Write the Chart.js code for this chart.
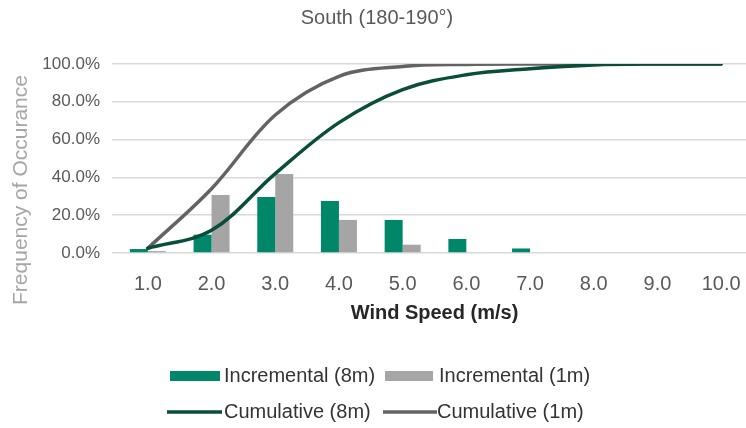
<!DOCTYPE html>
<html>
<head>
<meta charset="utf-8">
<script src="https://cdn.jsdelivr.net/npm/chart.js@4/dist/chart.umd.min.js"></script>
<style>
  html, body { margin: 0; padding: 0; background: #ffffff; overflow: hidden; width: 746px; height: 428px; }
  #wrap { position: relative; width: 760px; height: 428px; }
</style>
</head>
<body>
<div id="wrap"><canvas id="c" width="760" height="428"></canvas></div>
<script>
// ---- data ----
const chartTitle = 'South (180-190°)';
const yAxisTitle = 'Frequency of Occurance';
const xAxisTitle = 'Wind Speed (m/s)';

const windSpeeds = ['1.0', '2.0', '3.0', '4.0', '5.0', '6.0', '7.0', '8.0', '9.0', '10.0'];
const incremental8m = [2.1, 9.7, 29.6, 27.5, 17.5, 7.4, 2.4, 0, 0, 0];
const incremental1m = [1.0, 30.7, 41.8, 17.5, 4.4, 0, 0, 0, 0, 0];
const cumulative8m = [2.5, 12.0, 42.0, 69.0, 86.5, 94.3, 97.5, 99.5, 100, 100];
const cumulative1m = [2.5, 34.0, 73.0, 93.5, 98.7, 99.8, 100, 100, 100, 100];
const yTicks = [0, 20, 40, 60, 80, 100];
const seriesLabels = ['Incremental (8m)', 'Incremental (1m)', 'Cumulative (8m)', 'Cumulative (1m)'];

// ---- styling ----
const FONT = '"Liberation Sans", Arial, sans-serif';
const colors = {
  inc8: '#00876a',
  inc1: '#a5a5a5',
  cum8: '#0b4d3b',
  cum1: '#636363',
  grid: '#d9d9d9',
  text: '#595959'
};

// legend entries: kind, swatch start/end x, text x, row centre y
const legendLayout = [
  { kind: 'box',  x0: 170, x1: 220, tx: 224, y: 376 },
  { kind: 'box',  x0: 385, x1: 433, tx: 439, y: 376 },
  { kind: 'line', x0: 167, x1: 222, tx: 224, y: 412 },
  { kind: 'line', x0: 383, x1: 437, tx: 437, y: 412 }
];

const textPlugin = {
  id: 'chartTexts',
  afterDraw(chart) {
    const ctx = chart.ctx;
    const a = chart.chartArea;
    ctx.save();
    ctx.textAlign = 'center';
    ctx.textBaseline = 'middle';

    ctx.fillStyle = colors.text;
    ctx.font = '20px ' + FONT;
    ctx.fillText(chartTitle, 377, 18);

    ctx.fillStyle = '#262626';
    ctx.font = 'bold 20px ' + FONT;
    ctx.fillText(xAxisTitle, (a.left + a.right) / 2, 313);

    ctx.save();
    ctx.translate(21, 190);
    ctx.rotate(-Math.PI / 2);
    ctx.fillStyle = '#a6a6a6';
    ctx.font = '21px ' + FONT;
    ctx.fillText(yAxisTitle, 0, 0);
    ctx.restore();

    // legend
    ctx.textAlign = 'left';
    ctx.font = '20px ' + FONT;
    chart.data.datasets.forEach((ds, i) => {
      const L = legendLayout[i];
      if (L.kind === 'box') {
        ctx.fillStyle = ds.backgroundColor;
        ctx.fillRect(L.x0, L.y - 5, L.x1 - L.x0, 10);
      } else {
        ctx.strokeStyle = ds.borderColor;
        ctx.lineWidth = 3.5;
        ctx.beginPath();
        ctx.moveTo(L.x0, L.y);
        ctx.lineTo(L.x1, L.y);
        ctx.stroke();
      }
      ctx.fillStyle = '#333333';
      ctx.fillText(ds.label, L.tx, L.y);
    });
    ctx.restore();
  }
};

new Chart(document.getElementById('c'), {
  type: 'bar',
  data: {
    labels: windSpeeds,
    datasets: [
      { type: 'bar', label: seriesLabels[0], data: incremental8m, backgroundColor: colors.inc8,
        order: 3, barPercentage: 1.0, categoryPercentage: 0.565 },
      { type: 'bar', label: seriesLabels[1], data: incremental1m, backgroundColor: colors.inc1,
        order: 3, barPercentage: 1.0, categoryPercentage: 0.565 },
      { type: 'line', label: seriesLabels[2], data: cumulative8m, borderColor: colors.cum8,
        backgroundColor: colors.cum8, borderWidth: 3.5, pointRadius: 0, tension: 0.35, order: 1,
        borderCapStyle: 'round' },
      { type: 'line', label: seriesLabels[3], data: cumulative1m, borderColor: colors.cum1,
        backgroundColor: colors.cum1, borderWidth: 3.5, pointRadius: 0, tension: 0.35, order: 2,
        borderCapStyle: 'round' }
    ]
  },
  options: {
    responsive: false,
    animation: false,
    layout: { padding: { top: 64, right: 7, bottom: 0, left: 0 } },
    plugins: {
      legend: { display: false },
      title: { display: false },
      tooltip: { enabled: false }
    },
    scales: {
      x: {
        grid: { display: false },
        border: { display: false },
        ticks: { color: colors.text, font: { family: FONT, size: 20 }, padding: 11, maxRotation: 0 },
        afterFit(scale) { scale.height = 175; }
      },
      y: {
        min: 0,
        max: 100,
        afterBuildTicks(scale) { scale.ticks = yTicks.map(v => ({ value: v })); },
        grid: { color: colors.grid, lineWidth: 1.5, drawTicks: true, tickLength: 4 },
        border: { display: false },
        ticks: {
          color: colors.text,
          font: { family: FONT, size: 17 },
          padding: 12,
          callback: v => v.toFixed(1) + '%'
        },
        afterFit(scale) { scale.width = 116; }
      }
    }
  },
  plugins: [textPlugin]
});
</script>
</body>
</html>
